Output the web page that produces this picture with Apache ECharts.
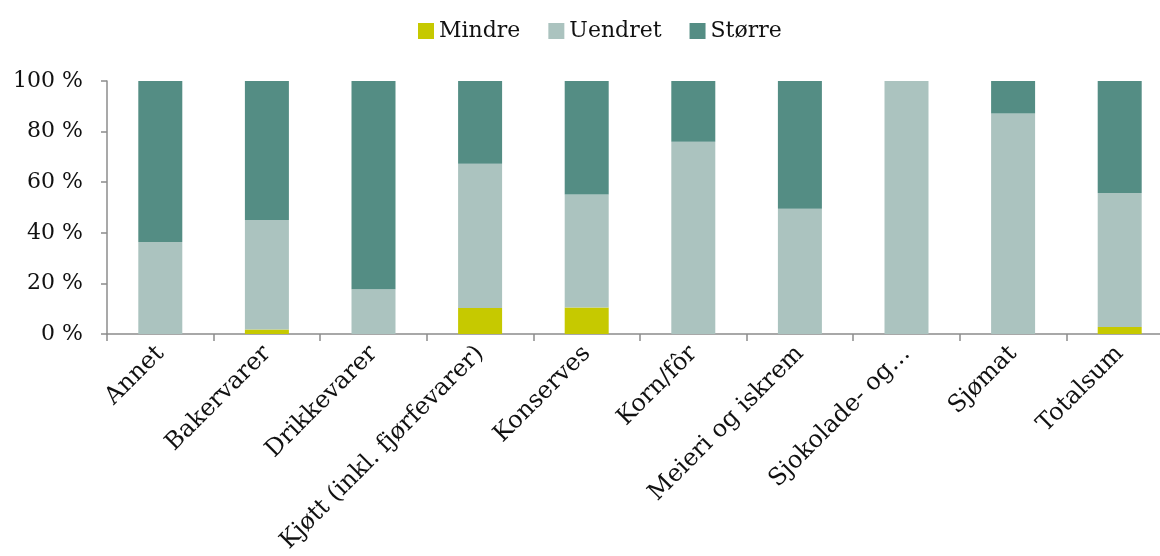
<!DOCTYPE html>
<html>
<head>
<meta charset="utf-8">
<script src="https://cdn.jsdelivr.net/npm/echarts@6/dist/echarts.min.js"></script>
<style>
  html, body { margin: 0; padding: 0; background: #ffffff; }
  #chart { width: 1160px; height: 556px; }
</style>
</head>
<body>
<div id="chart"></div>
<script>
// Andel per varegruppe (prosent), stablet til 100 %
const categories = [
  'Annet', 'Bakervarer', 'Drikkevarer', 'Kjøtt (inkl. fjørfevarer)', 'Konserves',
  'Korn/fôr', 'Meieri og iskrem', 'Sjokolade- og…', 'Sjømat', 'Totalsum'
];
const mindre  = [0,    1.8,  0,    10.3, 10.5, 0,    0,    0,   0,    2.8];
const uendret = [36.4, 43.3, 17.7, 57.0, 44.6, 76.0, 49.5, 100, 87.2, 52.9];
const storre  = [63.6, 54.9, 82.3, 32.7, 44.9, 24.0, 50.5, 0,   12.8, 44.3];

const seriesNames = ['Mindre', 'Uendret', 'Større'];
const colors = ['#c6c900', '#abc3bf', '#548d84'];

const serif = '"DejaVu Serif", "Liberation Serif", serif';
const axisGray = '#8c8c8c';

const chart = echarts.init(document.getElementById('chart'), null, { renderer: 'canvas' });

function barSeries(name, data, color) {
  return {
    name: name,
    type: 'bar',
    stack: 'andel',
    barWidth: 44,
    data: data,
    itemStyle: { color: color },
    emphasis: { disabled: true }
  };
}

chart.setOption({
  animation: false,
  backgroundColor: '#ffffff',
  color: colors,
  legend: {
    top: 15,
    left: 413,
    icon: 'rect',
    itemWidth: 16,
    itemHeight: 16,
    itemGap: 28,
    textStyle: { fontFamily: serif, fontSize: 22, color: '#111' },
    data: seriesNames
  },
  grid: {
    left: 107,
    top: 81,
    width: 1066,
    height: 253,
    containLabel: false,
    outerBoundsMode: 'none'
  },
  xAxis: {
    type: 'category',
    data: categories,
    axisLine: { lineStyle: { color: axisGray, width: 1.5 } },
    axisTick: { show: true, length: 7, lineStyle: { color: axisGray, width: 1.5 } },
    axisLabel: {
      rotate: 45,
      interval: 0,
      margin: 16,
      fontFamily: serif,
      fontSize: 24,
      color: '#111'
    }
  },
  yAxis: {
    type: 'value',
    min: 0,
    max: 100,
    interval: 20,
    axisLine: { show: true, lineStyle: { color: axisGray, width: 1.5 } },
    axisTick: { show: true, length: 6, lineStyle: { color: axisGray, width: 1.5 } },
    splitLine: { show: false },
    axisLabel: {
      formatter: '{value} %',
      margin: 24,
      fontFamily: serif,
      fontSize: 22,
      color: '#111'
    }
  },
  series: [
    barSeries(seriesNames[0], mindre, colors[0]),
    barSeries(seriesNames[1], uendret, colors[1]),
    barSeries(seriesNames[2], storre, colors[2])
  ]
});
</script>
</body>
</html>
